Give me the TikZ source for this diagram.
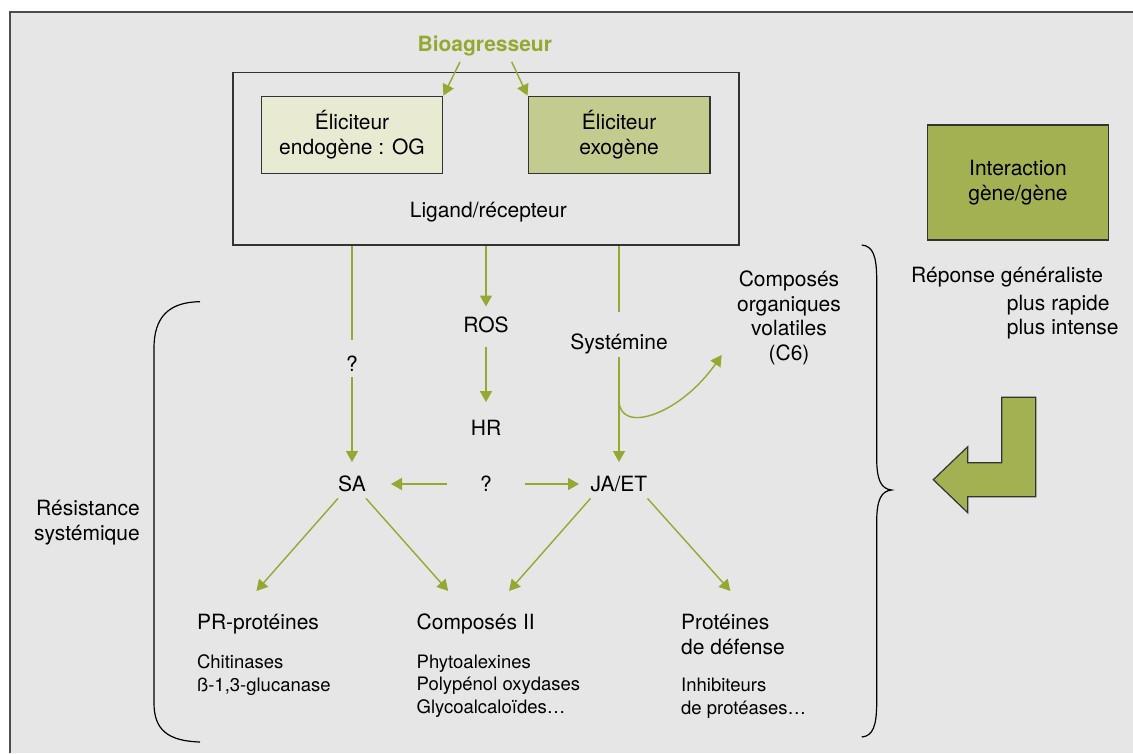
\documentclass[tikz,border=0pt]{standalone}
\usepackage{fontspec}
\setmainfont{TeX Gyre Heros}
\usetikzlibrary{arrows.meta}

\definecolor{bggrey}{HTML}{E6E6E6}
\definecolor{frameline}{HTML}{4D4D4D}
\definecolor{boxline}{HTML}{333333}
\definecolor{leaf}{HTML}{94A931}
\definecolor{leafdark}{HTML}{A4B152}
\definecolor{leafmid}{HTML}{C4CB8E}
\definecolor{leaflight}{HTML}{E8EBD2}

\begin{document}
\begin{tikzpicture}[x=1pt,y=-1pt,
    lbl/.style={inner sep=0pt, text height=15pt, text depth=0pt, font=\fontsize{21}{24.5}\selectfont},
    item/.style={inner sep=0pt, align=left, font=\fontsize{18.5}{22.5}\selectfont},
    box/.style={draw=boxline, line width=1.4pt, inner sep=0pt, align=center, font=\fontsize{21}{24.5}\selectfont},
    link/.style={draw=leaf, line width=1.4pt},
    flow/.style={link, -{Triangle[length=11pt,width=12pt]}},
    brk/.style={draw=black, line width=1.2pt}]
    \useasboundingbox (0,0) rectangle (1133,753);

    % Draw the panel
    \fill[bggrey] (10,12) rectangle (1133,753);
    \draw[frameline, line width=2pt] (10,753) -- (10,12) -- (1133,12);

    % Draw the pathogen and the elicitors
    \node[lbl, font=\bfseries\fontsize{21}{24.5}\selectfont, text=leaf] (bio) at (484.8,44) {Bioagresseur};
    \node[draw=boxline, line width=1.4pt, inner sep=0pt, minimum width=506.2pt, minimum height=172.3pt] (lig) at (485.9,158.85) {};
    \node[box, fill=leaflight, minimum width=181.5pt, minimum height=77pt] (endo) at (352,134.8) {Éliciteur\\endogène : OG};
    \node[box, fill=leafmid, minimum width=181.8pt, minimum height=77pt] (exo) at (619.1,134.8) {Éliciteur\\exogène};
    \node[lbl] (ligtxt) at (488.3,210) {Ligand/récepteur};
    \draw[flow] ([xshift=-24.8pt,yshift=-10.2pt]bio.south) -- (endo.north east);
    \draw[flow] ([xshift=26.9pt,yshift=-10.2pt]bio.south) -- (exo.north west);

    % Draw the signals
    \node[lbl] (q1) at (352,364) {?};
    \node[lbl] (ros) at (486,325) {ROS};
    \node[lbl] (hr) at (486,428) {HR};
    \node[lbl] (sys) at (619,341.7) {Systémine};
    \node[lbl] (sa) at (352,484) {SA};
    \node[lbl] (qm2) at (486,484) {?};
    \node[lbl] (ja) at (619,484) {JA/ET};
    \node[align=center, inner sep=0pt, font=\fontsize{21}{24.5}\selectfont] (cov) at (789,318) {Composés\\organiques\\volatiles\\(C6)};

    \draw[link, shorten >=16.5pt] (q1 |- lig.south) -- (q1);
    \draw[flow, shorten <=5.2pt, shorten >=14.3pt] (q1) -- (sa);
    \draw[flow, shorten >=10.8pt] (ros |- lig.south) -- (ros);
    \draw[flow, shorten <=14.2pt, shorten >=18.2pt] (ros) -- (hr);
    \draw[link, shorten >=22.5pt] (sys |- lig.south) -- (sys);
    \draw[flow, shorten <=7.5pt, shorten >=14.3pt] (sys) -- (ja);
    \coordinate (fork) at (619,400);
    \coordinate (covT) at (721.7,355);
    \draw[flow] (fork) .. controls (619,435) and (680,415) .. (covT);
    \draw[flow, shorten <=32.6pt, shorten >=25pt] (qm2) -- (sa);
    \draw[flow, shorten <=32.5pt, shorten >=11.5pt] (qm2) -- (ja);

    % Draw the defence products
    \node[lbl, anchor=west] (pr) at (196.8,622.3) {PR-protéines};
    \node[lbl, anchor=west] (co) at (416.5,622.3) {Composés II};
    \node[lbl, anchor=west] (pt) at (681,622.3) {Protéines};
    \node[lbl, anchor=west] (pt2) at (681,646.7) {de défense};
    \node[item, anchor=north west] (prlist) at (196.8,654.5) {Chitinases\\ß-1,3-glucanase};
    \node[item, anchor=north west] (colist) at (416.5,654.5) {Phytoalexines\\Polypénol oxydases\\Glycoalcaloïdes…};
    \node[item, anchor=north west] (ptlist) at (681,678) {Inhibiteurs\\de protéases…};

    \coordinate (prT) at (256.4,591);
    \coordinate (coL) at (448.2,591);
    \coordinate (coR) at (509,591);
    \coordinate (ptT) at (730.4,591);
    \draw[flow] ([yshift=-6.7pt]sa.south west) -- (prT);
    \draw[flow] ([yshift=-6.7pt]sa.south east) -- (coL);
    \draw[flow] ([yshift=-6.7pt]ja.south west) -- (coR);
    \draw[flow] ([yshift=-6.7pt]ja.south east) -- (ptT);

    % Draw the brackets
    \node[lbl, anchor=east] (res1) at (140,508) {Résistance};
    \node[lbl, anchor=east] (res2) at (140,533) {systémique};
    \draw[brk] (200,301.7) .. controls (168,302) and (154,318) .. (154,348) -- (154,703)
        .. controls (154,730) and (168,741) .. (200,742);
    \draw[brk] (861.7,245) .. controls (873,246) and (876.7,256) .. (876.7,280) -- (876.7,458)
        .. controls (876.7,480) and (881,489) .. (891.7,490)
        .. controls (881,491) and (876.7,500) .. (876.7,522) -- (876.7,702)
        .. controls (876.7,726) and (873,736) .. (861.7,737);

    % Draw the gene-for-gene side
    \node[box, fill=leafdark, minimum width=181.4pt, minimum height=115pt] (gg) at (1018,182.5) {Interaction\\gène/gène};
    \node[lbl, anchor=west] (rep) at (911,275) {Réponse généraliste};
    \node[lbl, anchor=west] (rapide) at (1006.7,302.7) {plus rapide};
    \node[lbl, anchor=west] (intense) at (1006.7,326.7) {plus intense};
    \draw[fill=leafdark, draw=boxline, line width=1.2pt] (1001.7,397.3) -- (1035.7,397.3) -- (1035.7,496.7)
        -- (967.7,496.7) -- (967.7,512.7) -- (933.3,479.7) -- (967.7,446.7) -- (967.7,462.7)
        -- (1001.7,462.7) -- cycle;
\end{tikzpicture}
\end{document}
